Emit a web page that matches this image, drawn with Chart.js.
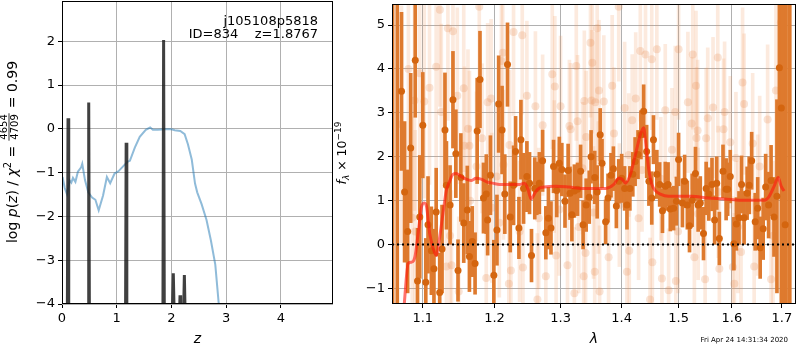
<!DOCTYPE html>
<html>
<head>
<meta charset="utf-8">
<script src="https://cdn.jsdelivr.net/npm/chart.js@4.4.0/dist/chart.umd.min.js"></script>
<style>
  body { margin: 0; background: #fff; width: 800px; height: 350px; position: relative; overflow: hidden; }
  #pz { position: absolute; left: 0; top: 0; }
  #spec { position: absolute; left: 300px; top: 0; }
</style>
</head>
<body>
<canvas id="pz" width="340" height="350"></canvas>
<canvas id="spec" width="500" height="350"></canvas>
<script>
// ---- left panel: log p(z) ----
const zTicks = [0, 1, 2, 3, 4];
const logpTicks = [-4, -3, -2, -1, 0, 1, 2];
const zRange = [0, 4.95];
const logpRange = [-4, 2.92];

const priorZ = [0.01, 0.05, 0.09, 0.12, 0.14, 0.17, 0.20, 0.245, 0.29, 0.35,
  0.37, 0.42, 0.48, 0.55, 0.61, 0.67, 0.75, 0.82, 0.88, 0.96,
  1.03, 1.12, 1.20, 1.24, 1.33, 1.42, 1.53, 1.61, 1.66, 1.75,
  1.88, 2.00, 2.06, 2.16, 2.24, 2.30, 2.37, 2.43, 2.47, 2.55,
  2.64, 2.72, 2.80, 2.86, 2.90];
const priorLogP = [-1.10, -1.35, -1.49, -1.30, -1.18, -1.23, -1.12, -1.21, -0.98, -0.88,
  -0.80, -1.17, -1.45, -1.57, -1.62, -1.86, -1.52, -1.10, -1.24, -1.02,
  -0.97, -0.85, -0.75, -0.73, -0.43, -0.18, -0.02, 0.03, -0.02, -0.02,
  -0.01, -0.01, -0.03, -0.05, -0.12, -0.35, -0.70, -1.25, -1.45, -1.72,
  -2.08, -2.55, -3.10, -3.95, -4.50];

// chi2 curve: narrow spikes rising out of the bottom of the panel
const chi2Z = [0.097, 0.11, 0.123, 0.475, 0.488, 0.501, 1.16, 1.172, 1.184,
  1.843, 1.856, 1.869, 2.015, 2.033, 2.05, 2.145, 2.156, 2.167, 2.22, 2.235, 2.25];
const chi2LogP = [-4.5, 0.24, -4.5, -4.5, 0.60, -4.5, -4.5, -0.32, -4.5,
  -4.5, 2.03, -4.5, -4.3, -3.30, -4.3, -4.3, -3.80, -4.3, -4.3, -3.34, -4.3];

const fieldName = "j105108p5818";
const idLabel = "ID=834    z=1.8767";

// ---- right panel: spectrum ----
const waveTicks = [1.1, 1.2, 1.3, 1.4, 1.5, 1.6, 1.7];
const fluxTicks = [-1, 0, 1, 2, 3, 4, 5];
const waveRange = [1.0597, 1.7295];
const fluxRange = [-1.353, 5.48];

const darkWave = [1.0605, 1.0665, 1.072, 1.076, 1.080, 1.084, 1.090, 1.093, 1.096, 1.100,
  1.104, 1.107, 1.1115, 1.115, 1.118, 1.1228, 1.126, 1.130, 1.132, 1.137,
  1.141, 1.145, 1.148, 1.152, 1.156, 1.161, 1.164, 1.168, 1.172, 1.175,
  1.179, 1.184, 1.188, 1.190, 1.194, 1.199, 1.2035, 1.206, 1.211, 1.215,
  1.219, 1.223, 1.228, 1.231, 1.236, 1.239, 1.243, 1.248, 1.252, 1.255,
  1.260, 1.263, 1.267, 1.272, 1.277, 1.281, 1.285, 1.289, 1.294, 1.298,
  1.302, 1.307, 1.312, 1.315, 1.318, 1.322, 1.327, 1.332, 1.336, 1.341,
  1.346, 1.349, 1.355, 1.359, 1.364, 1.367, 1.373, 1.377, 1.382, 1.386,
  1.391, 1.395, 1.400, 1.405, 1.409, 1.414, 1.419, 1.423, 1.428, 1.433,
  1.4378, 1.443, 1.447, 1.452, 1.455, 1.461, 1.466, 1.471, 1.476, 1.481,
  1.485, 1.491, 1.496, 1.500, 1.507, 1.511, 1.516, 1.520, 1.525, 1.531,
  1.536, 1.540, 1.546, 1.551, 1.556, 1.562, 1.567, 1.571, 1.576, 1.583,
  1.589, 1.592, 1.597, 1.604, 1.609, 1.614, 1.619, 1.624, 1.630, 1.634,
  1.639, 1.646, 1.651, 1.656, 1.662, 1.667, 1.673, 1.678, 1.684, 1.690,
  1.695, 1.699, 1.702, 1.707, 1.7088, 1.7165];
const darkFlux = [-2.0, -2.3, 3.49, 1.2, 0.3, 2.2, 4.2, -0.83, 0.63, 2.72,
  -0.86, 0.45, -0.14, -0.55, 0.74, -1.09, -0.10, 2.61, 1.35, 0.90,
  3.30, 2.07, -0.59, 1.53, 0.49, 0.79, -0.27, 0.07, -0.43, 2.59,
  3.76, 1.06, 1.15, 0.56, 1.58, -0.70, 0.33, 3.20, 2.61, 1.15,
  4.10, 0.63, 1.35, 2.12, 0.38, 2.39, 1.28, 1.55, 1.40, -0.25,
  1.28, 1.28, 1.40, 1.91, 0.27, 0.60, 0.38, 1.78, 1.23, 1.85,
  1.71, 0.99, 1.69, 1.17, 0.68, 1.22, 1.26, 1.67, 0.45, 0.90,
  1.08, 2.00, 1.53, 1.20, 2.50, 1.85, 0.52, 1.06, 1.58, 1.73,
  0.88, 1.44, 1.51, 1.28, 0.90, 1.28, 1.60, 1.89, 2.05, 2.50,
  3.04, 2.12, 1.44, 1.06, 2.39, 1.60, 1.37, 0.77, 1.33, 1.37,
  0.81, 0.83, 0.99, 1.94, 0.95, 1.44, 0.90, 0.43, 1.01, 1.62,
  0.90, 0.95, 0.25, 1.28, 1.15, 1.37, 0.56, 1.40, 0.14, 1.67,
  1.26, 1.26, 1.55, 0.02, 0.47, 0.61, 1.37, 0.61, 1.17, 1.35,
  1.91, 0.52, 0.83, -0.07, 0.36, 1.31, 0.90, 1.46, 0.63, 1.10,
  4.03, 3.11, -3.0, 0.45, -3.0, -3.0];
const darkErr = [9, 9, 1.8, 1.6, 1.4, 1.7, 1.3, 1.2, 1.4, 1.2,
  1.0, 1.1, 1.0, 0.9, 1.0, 0.9, 1.0, 1.3, 1.0, 0.9,
  1.1, 1.0, 0.7, 1.0, 0.9, 1.0, 0.8, 0.8, 0.7, 1.2,
  1.1, 0.8, 0.9, 0.8, 0.9, 0.8, 0.8, 1.1, 1.0, 0.9,
  0.95, 0.8, 0.9, 0.8, 0.7, 0.9, 0.8, 0.8, 0.7, 0.6,
  0.7, 0.6, 0.7, 0.7, 0.6, 0.7, 0.6, 0.6, 0.6, 0.6,
  0.6, 0.6, 0.6, 0.6, 0.6, 0.6, 0.6, 0.6, 0.55, 0.6,
  0.6, 0.6, 0.6, 0.6, 0.6, 0.55, 0.5, 0.55, 0.5, 0.5,
  0.5, 0.5, 0.55, 0.5, 0.55, 0.5, 0.5, 0.55, 0.55, 0.55,
  0.6, 0.6, 0.55, 0.6, 0.55, 0.55, 0.5, 0.5, 0.55, 0.5,
  0.5, 0.5, 0.55, 0.6, 0.55, 0.6, 0.55, 0.6, 0.6, 0.6,
  0.6, 0.6, 0.6, 0.6, 0.6, 0.6, 0.55, 0.6, 0.6, 0.6,
  0.7, 0.6, 0.6, 0.6, 0.6, 0.6, 0.65, 0.6, 0.6, 0.65,
  0.65, 0.65, 0.7, 0.7, 0.7, 0.75, 0.75, 0.8, 0.9, 2.2,
  2.5, 5, 9, 6, 9, 9];

const faintWave = [1.123, 1.178, 1.134, 1.141, 1.118, 1.096, 1.081, 1.109, 1.156, 1.147,
  1.089, 1.102, 1.190, 1.125, 1.162, 1.182, 1.157, 1.164, 1.174, 1.086,
  1.132, 1.139, 1.149, 1.188, 1.072, 1.228, 1.241, 1.212, 1.210, 1.195,
  1.287, 1.325, 1.291, 1.350, 1.338, 1.261, 1.248, 1.300, 1.272, 1.327,
  1.314, 1.316, 1.341, 1.222, 1.290, 1.335, 1.203, 1.213, 1.196, 1.293,
  1.340, 1.311, 1.224, 1.277, 1.337, 1.221, 1.322, 1.264, 1.242, 1.395,
  1.359, 1.348, 1.351, 1.432, 1.441, 1.452, 1.500, 1.461, 1.384, 1.362,
  1.424, 1.405, 1.356, 1.370, 1.418, 1.476, 1.494, 1.517, 1.387, 1.524,
  1.412, 1.488, 1.435, 1.353, 1.378, 1.413, 1.453, 1.409, 1.355, 1.470,
  1.482, 1.363, 1.495, 1.449, 1.526, 1.573, 1.621, 1.532, 1.624, 1.564,
  1.586, 1.671, 1.554, 1.535, 1.584, 1.597, 1.641, 1.533, 1.551, 1.655,
  1.608, 1.698, 1.701, 1.688, 1.549, 1.576, 1.605, 1.644, 1.678, 1.529,
  1.618, 1.602, 1.090, 1.137, 1.165, 1.207, 1.237, 1.266, 1.298, 1.329,
  1.361, 1.396, 1.429, 1.468, 1.499, 1.536, 1.574, 1.612, 1.651, 1.682];
const faintFlux = [5.35, 5.42, 4.93, 4.86, 4.05, 3.90, 4.00, 3.57, 3.56, 3.39,
  3.28, 3.26, 3.24, 3.02, 2.64, 2.42, 2.25, 2.25, 1.78, 0.61,
  -0.50, -0.47, -1.07, -0.76, 2.74, 4.84, 4.77, 4.37, 4.18, 3.33,
  3.88, 4.07, 3.60, 3.28, 3.27, 3.15, 3.39, 3.15, 2.72, 2.81,
  2.70, 2.63, 2.45, 2.27, 1.78, 1.74, 1.55, 1.82, 0.84, -0.25,
  -0.19, -0.47, -0.59, -0.72, -0.72, -0.89, -1.11, -1.25, -0.52, 5.42,
  4.93, 4.60, 4.14, 4.41, 4.33, 4.22, 4.45, 4.45, 3.62, 3.51,
  3.33, 3.11, 3.24, 3.26, 2.83, 3.06, 3.02, 3.24, 2.53, 2.76,
  2.04, 2.16, 1.70, 0.73, -0.29, -0.14, -0.40, -0.62, -0.62, -0.77,
  -1.04, -1.07, -0.83, -1.25, 4.33, 4.26, 3.69, 3.62, 3.20, 3.12,
  3.02, 2.85, 2.88, 2.60, 2.63, 2.33, 2.30, 2.43, 2.42, 1.78,
  1.97, 5.06, 5.16, 3.51, -0.79, -0.55, -0.89, -0.50, -0.79, -0.29,
  -0.17, -0.51, 0.30, 0.20, 1.00, 0.50, 0.30, 0.60, 0.80, 0.40,
  1.30, 0.90, 0.60, 1.50, 0.30, 0.70, 1.20, 0.40, 0.90, 0.20];
const faintErr = [2.2, 2.0, 2.1, 1.9, 2.3, 2.5, 2.7, 2.2, 1.9, 2.0,
  2.5, 2.2, 1.8, 2.0, 1.8, 1.7, 1.8, 1.7, 1.7, 2.3,
  1.8, 1.7, 1.7, 1.6, 2.7, 1.9, 1.8, 1.9, 1.8, 1.8,
  1.7, 1.7, 1.6, 1.6, 1.6, 1.7, 1.7, 1.6, 1.6, 1.5,
  1.5, 1.5, 1.5, 1.7, 1.5, 1.5, 1.7, 1.7, 1.7, 1.5,
  1.5, 1.5, 1.6, 1.5, 1.5, 1.6, 1.5, 1.5, 1.6, 1.7,
  1.7, 1.7, 1.6, 1.6, 1.6, 1.6, 1.6, 1.6, 1.6, 1.6,
  1.5, 1.5, 1.6, 1.5, 1.5, 1.5, 1.5, 1.6, 1.5, 1.5,
  1.4, 1.4, 1.4, 1.5, 1.5, 1.4, 1.4, 1.4, 1.5, 1.4,
  1.4, 1.5, 1.4, 1.4, 1.7, 1.7, 1.7, 1.7, 1.6, 1.6,
  1.6, 1.7, 1.6, 1.6, 1.6, 1.5, 1.6, 1.6, 1.6, 1.6,
  1.5, 2.2, 2.2, 2.0, 1.6, 1.6, 1.6, 1.6, 1.7, 1.6,
  1.6, 1.6, 2.3, 1.8, 1.7, 1.7, 1.6, 1.6, 1.5, 1.5,
  1.5, 1.4, 1.4, 1.4, 1.4, 1.5, 1.5, 1.5, 1.6, 1.7];

const modelWave = [1.0751, 1.0807, 1.0850, 1.0894, 1.0938, 1.0981, 1.1017, 1.1048, 1.1093, 1.1137,
  1.1182, 1.1214, 1.1272, 1.1317, 1.1364, 1.1409, 1.1454, 1.1524, 1.1593, 1.1663,
  1.1734, 1.1805, 1.1901, 1.1973, 1.2074, 1.2220, 1.2368, 1.2443, 1.2493, 1.2543,
  1.2593, 1.2643, 1.2746, 1.2927, 1.3135, 1.3348, 1.3509, 1.3729, 1.3867, 1.3951,
  1.4007, 1.4064, 1.4149, 1.4235, 1.4321, 1.4378, 1.4418, 1.4465, 1.4522, 1.4583,
  1.4671, 1.4819, 1.4998, 1.5240, 1.5544, 1.5858, 1.6180, 1.6641, 1.6742, 1.6843,
  1.6924, 1.6986, 1.7047];
const modelFlux = [-1.45, -0.43, -0.40, -0.29, 0.25, 0.84, 0.95, 0.88, 0.25, -0.07,
  -0.25, 0.02, 0.70, 1.22, 1.44, 1.60, 1.62, 1.55, 1.49, 1.46,
  1.51, 1.49, 1.42, 1.40, 1.37, 1.37, 1.37, 1.40, 1.28, 1.04,
  1.15, 1.26, 1.31, 1.33, 1.31, 1.28, 1.28, 1.28, 1.37, 1.51,
  1.49, 1.40, 1.60, 2.05, 2.50, 2.66, 2.27, 1.73, 1.37, 1.23,
  1.15, 1.10, 1.10, 1.10, 1.06, 1.04, 1.01, 1.01, 1.10, 1.33,
  1.53, 1.33, 1.22];

const stamp = "Fri Apr 24 14:31:34 2020";

Chart.defaults.font.family = "'DejaVu Sans', sans-serif";
Chart.defaults.font.size = 13;
Chart.defaults.color = "#000";
Chart.defaults.animation = false;

const minus = (v) => String(v).replace("-", "\u2212");
const grid = { color: "#b0b0b0", lineWidth: 1, tickColor: "#000", tickLength: 4, offset: false };

function fixX(h) {
  return (s) => { s.height = h; s.paddingLeft = 0; s.paddingRight = 0; };
}
function fixY(w) {
  return (s) => { s.width = w; s.paddingTop = 0; s.paddingBottom = 0; };
}

// matplotlib style black box around the axes
const frame = {
  id: "frame",
  afterDatasetsDraw(chart) {
    const { ctx, chartArea: a } = chart;
    ctx.save();
    ctx.strokeStyle = "#000";
    ctx.lineWidth = 1;
    ctx.strokeRect(a.left + 0.5, a.top + 0.5, a.right - a.left - 1, a.bottom - a.top - 1);
    ctx.restore();
  },
};

// rotated label made of pieces (italic, sub/superscripts, a fraction)
function drawRotated(ctx, parts, x, y) {
  ctx.save();
  ctx.translate(x, y);
  ctx.rotate(-Math.PI / 2);
  ctx.fillStyle = "#000";
  ctx.textBaseline = "alphabetic";
  let total = 0;
  parts.forEach((p) => {
    ctx.font = p.font;
    if (p.frac) {
      p.w = Math.max(ctx.measureText(p.frac[0]).width, ctx.measureText(p.frac[1]).width) + 3;
    } else {
      p.w = ctx.measureText(p.text).width;
    }
    total += p.w;
  });
  let cx = -total / 2;
  parts.forEach((p) => {
    ctx.font = p.font;
    if (p.frac) {
      ctx.textAlign = "center";
      ctx.fillText(p.frac[0], cx + p.w / 2, -9.5);
      ctx.fillText(p.frac[1], cx + p.w / 2, 1.3);
      ctx.fillRect(cx + 0.5, -7.9, p.w - 1, 0.8);
      ctx.textAlign = "left";
    } else {
      ctx.textAlign = "left";
      ctx.fillText(p.text, cx, p.dy || 0);
    }
    cx += p.w;
  });
  ctx.restore();
}

const rm14 = "14px 'DejaVu Sans'";
const it14 = "italic 14px 'DejaVu Sans'";
const sm10 = "10px 'DejaVu Sans'";

const pzText = {
  id: "pzText",
  afterDraw(chart) {
    const { ctx, chartArea: a } = chart;
    ctx.save();
    ctx.fillStyle = "#000";
    ctx.font = "13px 'DejaVu Sans'";
    ctx.textAlign = "right";
    ctx.fillText(fieldName, a.right - 15, 24.5);
    ctx.fillText(idLabel, a.right - 15, 37.5);
    ctx.restore();
    drawRotated(ctx, [
      { text: "log ", font: rm14 },
      { text: "p", font: it14 },
      { text: "(", font: rm14 },
      { text: "z", font: it14 },
      { text: ") / ", font: rm14 },
      { text: "\u03c7", font: it14 },
      { text: "2", font: sm10, dy: -6 },
      { text: " = ", font: rm14 },
      { frac: ["4654", "4709"], font: sm10 },
      { text: " = 0.99", font: rm14 },
    ], 16.5, 152);
  },
};

const specText = {
  id: "specText",
  afterDraw(chart) {
    const { ctx, chartArea: a } = chart;
    drawRotated(ctx, [
      { text: "f", font: "italic 12.5px 'DejaVu Sans'" },
      { text: "\u03bb", font: "italic 9px 'DejaVu Sans'", dy: 3 },
      { text: " \u00d7 10", font: "12.5px 'DejaVu Sans'" },
      { text: "\u221219", font: "9px 'DejaVu Sans'", dy: -5.5 },
    ], a.left - 46, 153);
    ctx.save();
    ctx.fillStyle = "#000";
    ctx.font = "7px 'DejaVu Sans'";
    ctx.textAlign = "right";
    ctx.fillText(stamp, a.right - 8, 341.5);
    ctx.restore();
  },
};

new Chart("pz", {
  type: "scatter",
  data: {
    datasets: [
      {
        label: "chi2",
        data: chi2Z.map((z, i) => ({ x: z, y: chi2LogP[i] })),
        showLine: true,
        borderColor: "rgba(30,30,30,0.85)",
        borderWidth: 3,
        pointRadius: 0,
        clip: 0,
      },
      {
        label: "prior",
        data: priorZ.map((z, i) => ({ x: z, y: priorLogP[i] })),
        showLine: true,
        borderColor: "rgba(31,119,180,0.5)",
        borderWidth: 2,
        pointRadius: 0,
        clip: 0,
      },
    ],
  },
  options: {
    responsive: false,
    layout: { padding: { top: 1, right: 7, left: 0, bottom: 0 } },
    plugins: { legend: { display: false }, tooltip: { enabled: false } },
    scales: {
      x: {
        type: "linear",
        min: zRange[0],
        max: zRange[1],
        afterBuildTicks: (axis) => { axis.ticks = zTicks.map((v) => ({ value: v })); },
        afterFit: fixX(46),
        ticks: { callback: (v) => minus(v), maxRotation: 0, autoSkip: false, padding: 3 },
        grid: grid,
        border: { display: false },
        title: { display: true, text: "z", font: { style: "italic", size: 14 }, padding: { top: 0, bottom: 2 } },
      },
      y: {
        type: "linear",
        min: logpRange[0],
        max: logpRange[1],
        afterBuildTicks: (axis) => { axis.ticks = logpTicks.map((v) => ({ value: v })); },
        afterFit: fixY(62),
        ticks: { callback: (v) => minus(v), autoSkip: false, padding: 3 },
        grid: grid,
        border: { display: false },
      },
    },
  },
  plugins: [frame, pzText],
});

new Chart("spec", {
  type: "bar",
  data: {
    datasets: [
      {
        type: "line",
        label: "zero",
        data: [{ x: waveRange[0], y: 0 }, { x: waveRange[1], y: 0 }],
        borderColor: "#000",
        borderWidth: 2,
        borderDash: [2, 3],
        pointRadius: 0,
        clip: 0,
      },
      {
        type: "line",
        label: "model",
        data: modelWave.map((w, i) => ({ x: w, y: modelFlux[i] })),
        borderColor: "rgba(255,20,10,0.6)",
        borderWidth: 3,
        pointRadius: 0,
        cubicInterpolationMode: "monotone",
        clip: 0,
      },
      {
        type: "scatter",
        label: "binned",
        data: darkWave.map((w, i) => ({ x: w, y: darkFlux[i] })),
        backgroundColor: "#d4650f",
        borderWidth: 0,
        pointRadius: 3.5,
        clip: 0,
      },
      {
        type: "bar",
        label: "binned err",
        data: darkWave.map((w, i) => ({ x: w, y: [darkFlux[i] - darkErr[i], darkFlux[i] + darkErr[i]] })),
        backgroundColor: "#de7a2e",
        borderWidth: 0,
        barThickness: 3,
        grouped: false,
        clip: 0,
      },
      {
        type: "scatter",
        label: "pixels",
        data: faintWave.map((w, i) => ({ x: w, y: faintFlux[i] })),
        backgroundColor: "rgba(232,140,80,0.24)",
        borderWidth: 0,
        pointRadius: 4,
        clip: 0,
      },
      {
        type: "bar",
        label: "pixels err",
        data: faintWave.map((w, i) => ({ x: w, y: [faintFlux[i] - faintErr[i], faintFlux[i] + faintErr[i]] })),
        backgroundColor: "rgba(240,150,90,0.2)",
        borderWidth: 0,
        barThickness: 3,
        grouped: false,
        clip: 0,
      },
    ],
  },
  options: {
    responsive: false,
    layout: { padding: { top: 1, right: 2, left: 0, bottom: 0 } },
    plugins: { legend: { display: false }, tooltip: { enabled: false } },
    scales: {
      x: {
        type: "logarithmic",
        min: waveRange[0],
        max: waveRange[1],
        offset: false,
        afterBuildTicks: (axis) => { axis.ticks = waveTicks.map((v) => ({ value: v })); },
        afterFit: fixX(46),
        ticks: { callback: (v) => Number(v).toFixed(1), maxRotation: 0, autoSkip: false, padding: 3 },
        grid: grid,
        border: { display: false },
        title: { display: true, text: "\u03bb", font: { style: "italic", size: 14 }, padding: { top: 0, bottom: 2 } },
      },
      y: {
        type: "linear",
        min: fluxRange[0],
        max: fluxRange[1],
        afterBuildTicks: (axis) => { axis.ticks = fluxTicks.map((v) => ({ value: v })); },
        afterFit: fixY(92),
        ticks: { callback: (v) => minus(v), autoSkip: false, padding: 3 },
        grid: grid,
        border: { display: false },
      },
    },
  },
  plugins: [frame, specText],
});
</script>
</body>
</html>
